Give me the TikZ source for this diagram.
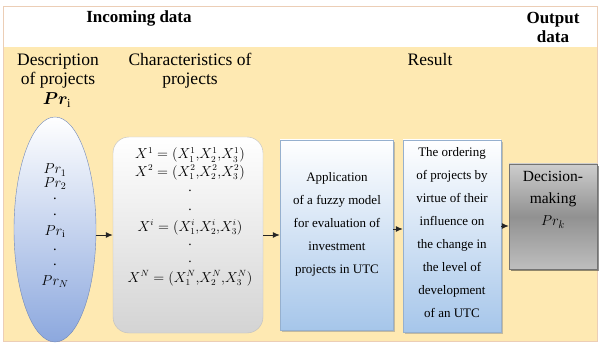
\documentclass[tikz,border=0pt]{standalone}
\usepackage{fontspec}
\setmainfont{Liberation Serif}
\usepackage{bm}
\usetikzlibrary{shapes.geometric,shadows,arrows.meta}
\definecolor{panel}{RGB}{254,233,178}
\definecolor{frameline}{RGB}{236,206,182}
\definecolor{ellblue}{RGB}{140,168,222}
\definecolor{ellline}{RGB}{112,136,186}
\definecolor{boxblue}{RGB}{166,198,234}
\definecolor{boxline}{RGB}{150,176,206}
\definecolor{dectop}{RGB}{205,205,205}
\definecolor{decmid}{RGB}{145,145,145}
\definecolor{decbot}{RGB}{190,190,190}
\begin{document}
\begin{tikzpicture}[x=1pt,y=1pt,
  head/.style={font=\fontsize{17.5}{19}\selectfont,align=center},
  boxtext/.style={align=center,font=\fontsize{13}{23}\selectfont},
  bluebox/.style={draw=boxline,top color=white,bottom color=boxblue,
    drop shadow={shadow xshift=2pt,shadow yshift=-2pt,fill=black!45}},
  line/.style={font=\fontsize{13.5}{15}\selectfont,anchor=base,inner sep=0pt},
  prline/.style={font=\fontsize{14.5}{15}\selectfont,anchor=base,inner sep=0pt},
  link/.style={draw=black!85,line width=1pt,-{Latex[length=7pt,width=6pt]}}]
\useasboundingbox (0,0) rectangle (599,351);
\fill[panel] (3,10) rectangle (597,304);
\draw[frameline] (3,10) rectangle (597,345);
\node[head,font=\fontsize{17}{19}\selectfont\bfseries] (incoming) at (139,333) {Incoming data};
\node[head,font=\fontsize{17}{19}\selectfont\bfseries] (output) at (553,324) {Output\\data};
\node[head] (descr) at (58,280) {Description\\of projects};
\node[head] (prhead) at (57,251) {$\bm{Pr}_{\mathrm{i}}$};
\node[head] (charact) at (190,280) {Characteristics of\\projects};
\node[head] (result) at (430,291) {Result};
\node[ellipse,draw=ellline,top color=white,bottom color=ellblue,minimum width=82pt,minimum height=225pt,inner sep=0pt] (projects) at (55,121.5) {};
\node[prline] (pr1) at (55,177) {$Pr_1$};
\node[prline] (pr2) at (55,164) {$Pr_2$};
\node[prline] (dotA) at (55,151) {.};
\node[prline] (dotB) at (55,136) {.};
\node[prline] (pri) at (55,116) {$Pr_{\mathrm{i}}$};
\node[prline] (dotC) at (55,101) {.};
\node[prline] (dotD) at (55,86) {.};
\node[prline] (prN) at (55,66) {$Pr_N$};
\node[draw=black!25,rounded corners=16pt,top color=white,bottom color=black!17,minimum width=150pt,minimum height=196pt] (chars) at (188,116) {};
\node[line] (x1) at (190,192) {$X^1=(X_1^1{,}X_2^1{,}X_3^1)$};
\node[line] (x2) at (190,175) {$X^2=(X_1^2{,}X_2^2{,}X_3^2)$};
\node[line] (dotE) at (190,159) {.};
\node[line] (dotF) at (190,141) {.};
\node[line] (xi) at (190,120) {$X^i=(X_1^i{,}X_2^i{,}X_3^i)$};
\node[line] (dotG) at (190,106) {.};
\node[line] (dotH) at (190,89) {.};
\node[line] (xN) at (190,69) {$X^N=(X_1^N{,}X_2^N{,}X_3^N)$};
\node[bluebox,minimum width=113pt,minimum height=190pt] (fuzzy) at (336.5,116) {};
\node[boxtext] (fuzzytext) at (337,127) {Application\\of a fuzzy model\\for evaluation of\\investment\\projects in UTC};
\node[bluebox,minimum width=98pt,minimum height=192pt] (order) at (452,115) {};
\node[boxtext] (ordertext) at (452,118) {The ordering\\of projects by\\virtue of their\\influence on\\the change in\\the level of\\development\\of an UTC};
\node[draw=black!55,top color=dectop,bottom color=decbot,middle color=decmid,minimum width=88pt,minimum height=105pt,
  drop shadow={shadow xshift=2pt,shadow yshift=-2pt,fill=black!85}] (decision) at (553,134.5) {};
\node[align=center,font=\fontsize{15.5}{22}\selectfont] (dectext) at (553,151) {Decision-\\making\\$Pr_k$};
\draw[link] (chars.west -| projects.east) -- (chars.west);
\draw[link] (chars.east) -- (chars.east -| fuzzy.west);
\draw[link] ([yshift=6pt]fuzzy.east) -- ([yshift=6pt]fuzzy.east -| order.west);
\draw[link] ([yshift=10pt]order.east) -- ([yshift=10pt]order.east -| decision.west);
\end{tikzpicture}
\end{document}
